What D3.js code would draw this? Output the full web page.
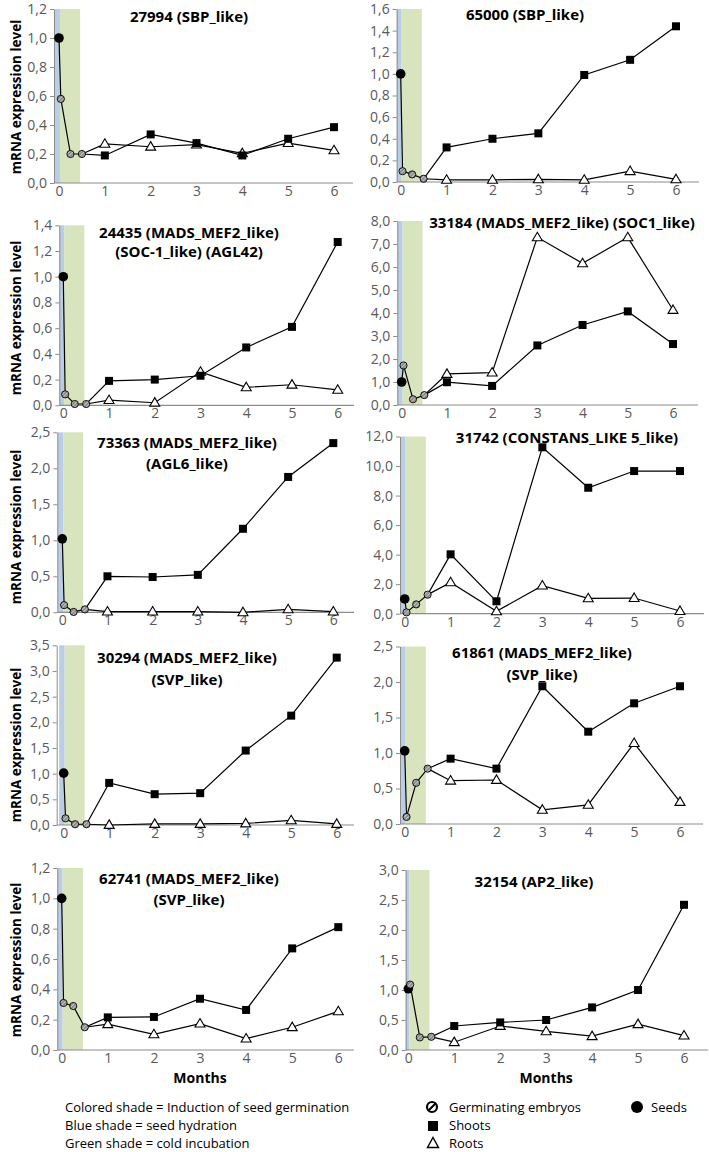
<!DOCTYPE html>
<html><head><meta charset="utf-8">
<script src="https://cdn.jsdelivr.net/npm/d3@7"></script>
<style>
body{margin:0;background:#fff}
svg{display:block}
text{font-family:"Open Sans",sans-serif}
</style>
</head><body>
<svg id="chart" width="709" height="1152"></svg>
<script>
// ---------- data ----------
const titles = [
  ["27994 (SBP_like)"],
  ["65000 (SBP_like)"],
  ["24435 (MADS_MEF2_like)", "(SOC-1_like) (AGL42)"],
  ["33184 (MADS_MEF2_like) (SOC1_like)"],
  ["73363 (MADS_MEF2_like)", "(AGL6_like)"],
  ["31742 (CONSTANS_LIKE 5_like)"],
  ["30294 (MADS_MEF2_like)", "(SVP_like)"],
  ["61861 (MADS_MEF2_like)", "(SVP_like)"],
  ["62741 (MADS_MEF2_like)", "(SVP_like)"],
  ["32154 (AP2_like)"]
];
const yMax  = [1.2, 1.6, 1.4, 8, 2.5, 12, 3.5, 2.5, 1.2, 3.0];
const yStep = [0.2, 0.2, 0.2, 1, 0.5, 2, 0.5, 0.5, 0.2, 0.5];
const monthTicks = [0, 1, 2, 3, 4, 5, 6];
const months = [1, 2, 3, 4, 5, 6];
const germX = [0.04, 0.25, 0.5];
const seedX = 0;
const seedVal = [1.0, 1.0, 1.0, 1.0, 1.02, 1.0, 1.01, 1.03, 1.0, 1.02];
const germVal = [
  [0.58, 0.20, 0.20],
  [0.10, 0.07, 0.03],
  [0.085, 0.01, 0.01],
  [1.72, 0.25, 0.43],
  [0.10, 0.005, 0.04],
  [0.09, 0.63, 1.29],
  [0.13, 0.015, 0.015],
  [0.10, 0.58, 0.78],
  [0.31, 0.29, 0.15],
  [1.09, 0.21, 0.22]
];
const shootVal = [
  [0.19, 0.335, 0.275, 0.19, 0.305, 0.385],
  [0.32, 0.40, 0.45, 0.99, 1.13, 1.44],
  [0.19, 0.20, 0.23, 0.45, 0.61, 1.27],
  [0.99, 0.83, 2.59, 3.48, 4.07, 2.65],
  [0.50, 0.49, 0.52, 1.16, 1.88, 2.35],
  [4.02, 0.84, 11.27, 8.53, 9.66, 9.66],
  [0.82, 0.60, 0.62, 1.45, 2.13, 3.26],
  [0.92, 0.78, 1.94, 1.30, 1.70, 1.94],
  [0.215, 0.218, 0.338, 0.264, 0.67, 0.81],
  [0.40, 0.46, 0.50, 0.71, 1.00, 2.42]
];
const rootVal = [
  [0.27, 0.25, 0.265, 0.205, 0.275, 0.225],
  [0.02, 0.02, 0.025, 0.02, 0.10, 0.025],
  [0.04, 0.02, 0.26, 0.14, 0.16, 0.12],
  [1.35, 1.41, 7.29, 6.16, 7.29, 4.13],
  [0.01, 0.01, 0.01, 0.0, 0.04, 0.01],
  [2.12, 0.16, 1.90, 1.04, 1.06, 0.18],
  [0.0, 0.02, 0.02, 0.03, 0.09, 0.02],
  [0.61, 0.62, 0.20, 0.27, 1.14, 0.31],
  [0.17, 0.103, 0.174, 0.075, 0.15, 0.255],
  [0.13, 0.40, 0.31, 0.23, 0.43, 0.24]
];
const blueShade = [-0.1, 0.02];
const greenShade = [0.02, 0.46];
const yLabel = "mRNA expression level";
const xLabel = "Months";
const shadeNotes = ["Colored shade = Induction of seed germination", "Blue shade = seed hydration", "Green shade = cold incubation"];
const legendNames = ["Germinating embryos", "Shoots", "Roots", "Seeds"];

// ---------- layout (pixels) ----------
const layout = [
  {x0:59,   x6:334, ax:54,   xe:353, yt:9,     yz:183,   tx:189, ty:[17]},
  {x0:400.7,x6:676, ax:396.7,xe:699, yt:9,     yz:182,   tx:525, ty:[15]},
  {x0:63.3, x6:337.7,ax:59.3,xe:354, yt:225.3, yz:405.3, tx:189, ty:[233,252]},
  {x0:401.7,x6:673, ax:397.3,xe:698, yt:221,   yz:405,   tx:562, ty:[223]},
  {x0:62.3, x6:333.3,ax:57.3,xe:354, yt:432.3, yz:612.3, tx:187, ty:[443,464]},
  {x0:404.7,x6:680, ax:400,  xe:704, yt:436.5, yz:613.7, tx:567, ty:[438]},
  {x0:63.7, x6:336.7,ax:56.7,xe:354, yt:645.3, yz:825,   tx:187, ty:[658,680]},
  {x0:404.7,x6:680, ax:400,  xe:703, yt:646.5, yz:824,   tx:542, ty:[653,675]},
  {x0:61.7, x6:338.3,ax:57.3,xe:354, yt:868,   yz:1050,  tx:189, ty:[879,900]},
  {x0:408.3,x6:684, ax:405.7,xe:708, yt:870,   yz:1050,  tx:534, ty:[882]}
];
const yLabelY = [97, 318, 527, 745, 960];

const svg = d3.select("#chart");
const defs = svg.append("defs");
const pat = defs.append("pattern").attr("id","hatch").attr("patternUnits","userSpaceOnUse")
  .attr("width",2.6).attr("height",2.6).attr("patternTransform","rotate(45)");
pat.append("rect").attr("width",2.6).attr("height",2.6).attr("fill","#8a8a8a");
pat.append("line").attr("x1",0).attr("y1",0).attr("x2",0).attr("y2",2.6).attr("stroke","#ececec").attr("stroke-width",1.1);

const fmt = d => d.toFixed(1).replace(".", ",");
const AX = "#8c8c8c";

function triPath(cx, cy, w, h) {
  return `M${cx},${cy - h*0.6}L${cx + w/2},${cy + h*0.4}L${cx - w/2},${cy + h*0.4}Z`;
}

layout.forEach((L, i) => {
  const g = svg.append("g");
  const x = d3.scaleLinear().domain([0, 6]).range([L.x0, L.x6]);
  const y = d3.scaleLinear().domain([0, yMax[i]]).range([L.yz, L.yt]);

  // shades
  const bx0 = Math.max(L.ax, x(blueShade[0]));
  g.append("rect").attr("x", bx0).attr("y", y(yMax[i]))
    .attr("width", x(blueShade[1]) - bx0).attr("height", y(0) - y(yMax[i])).attr("fill", "#b9cde5");
  g.append("rect").attr("x", x(greenShade[0])).attr("y", y(yMax[i]))
    .attr("width", x(greenShade[1]) - x(greenShade[0])).attr("height", y(0) - y(yMax[i])).attr("fill", "#d7e4bd");

  // y axis
  const yTicks = d3.range(0, yMax[i] + yStep[i] / 2, yStep[i]);
  const ya = g.append("g").attr("transform", `translate(${L.ax},0)`)
    .call(d3.axisLeft(y).tickValues(yTicks).tickFormat(fmt).tickSize(4).tickSizeOuter(0).tickPadding(3));
  ya.select(".domain").attr("stroke", AX);
  ya.selectAll(".tick line").attr("stroke", AX);
  ya.selectAll("text").attr("font-size", 14).attr("fill", "#595959").attr("font-family", "Open Sans");

  // x axis
  const xa = g.append("g").attr("transform", `translate(0,${L.yz})`)
    .call(d3.axisBottom(x).tickValues(monthTicks).tickFormat(d3.format("d")).tickSize(0).tickPadding(3));
  xa.select(".domain").remove();
  xa.selectAll("text").attr("font-size", 14).attr("fill", "#595959").attr("font-family", "Open Sans");
  g.append("line").attr("x1", L.ax).attr("x2", L.xe).attr("y1", L.yz).attr("y2", L.yz)
    .attr("stroke", AX).attr("stroke-width", 1.2);

  // lines
  const line = d3.line().x(d => x(d[0])).y(d => y(d[1]));
  const germPts = germX.map((gx, k) => [gx, germVal[i][k]]);
  const shootPts = months.map((m, k) => [m, shootVal[i][k]]);
  const rootPts = months.map((m, k) => [m, rootVal[i][k]]);
  const lastGerm = germPts[germPts.length - 1];
  g.append("path").attr("d", line([[seedX, seedVal[i]], ...germPts, ...shootPts]))
    .attr("fill", "none").attr("stroke", "#000").attr("stroke-width", 1.2);
  g.append("path").attr("d", line([lastGerm, ...rootPts]))
    .attr("fill", "none").attr("stroke", "#000").attr("stroke-width", 1.2);

  // markers
  g.selectAll(".root").data(rootPts).join("path")
    .attr("d", d => triPath(x(d[0]), y(d[1]), 10, 8.5))
    .attr("fill", "#fff").attr("stroke", "#000").attr("stroke-width", 1.1);
  g.selectAll(".shoot").data(shootPts).join("rect")
    .attr("x", d => x(d[0]) - 4).attr("y", d => y(d[1]) - 4).attr("width", 8).attr("height", 8).attr("fill", "#000");
  g.append("circle").attr("cx", x(seedX)).attr("cy", y(seedVal[i])).attr("r", 4.8).attr("fill", "#000");
  g.selectAll(".germ").data(germPts).join("circle")
    .attr("cx", d => x(d[0])).attr("cy", d => y(d[1])).attr("r", 3.6)
    .attr("fill", "url(#hatch)").attr("stroke", "#000").attr("stroke-width", 0.9);

  // title
  titles[i].forEach((t, k) => {
    g.append("text").attr("x", L.tx).attr("y", L.ty[k]).attr("dy", "0.35em")
      .attr("text-anchor", "middle").attr("font-size", 15).attr("font-weight", "bold").attr("fill", "#000").text(t);
  });

  // y label for left column
  if (i % 2 === 0) {
    svg.append("text").attr("transform", `translate(16,${yLabelY[i / 2]}) rotate(-90)`)
      .attr("text-anchor", "middle").attr("dy", "0.35em").attr("font-size", 13.5).attr("font-weight", "bold")
      .text(yLabel);
  }
  // x label bottom row
  if (i >= 8) {
    svg.append("text").attr("x", (L.x0 + L.x6) / 2).attr("y", 1078).attr("dy", "0.35em")
      .attr("text-anchor", "middle").attr("font-size", 14).attr("font-weight", "bold").text(xLabel);
  }
});

// ---------- legend ----------
shadeNotes.forEach((t, k) => {
  svg.append("text").attr("x", 65).attr("y", 1107 + k * 18).attr("dy", "0.35em")
    .attr("font-size", 13).text(t);
});
const lg = svg.append("g");
// germinating icon
lg.append("circle").attr("cx", 432).attr("cy", 1107).attr("r", 5).attr("fill", "#fff").attr("stroke", "#000").attr("stroke-width", 2.2);
lg.append("line").attr("x1", 428.5).attr("y1", 1110.5).attr("x2", 435.5).attr("y2", 1103.5).attr("stroke", "#000").attr("stroke-width", 2.2);
lg.append("rect").attr("x", 428).attr("y", 1121).attr("width", 10).attr("height", 10).attr("fill", "#000");
lg.append("path").attr("d", triPath(433, 1143.5, 11, 10)).attr("fill", "#fff").attr("stroke", "#000").attr("stroke-width", 1.4);
lg.append("circle").attr("cx", 637).attr("cy", 1107).attr("r", 6).attr("fill", "#000");
[[449, 1107], [449, 1125], [449, 1143], [651, 1107]].forEach((p, k) => {
  lg.append("text").attr("x", p[0]).attr("y", p[1]).attr("dy", "0.35em").attr("font-size", 13).text(legendNames[k]);
});
</script>
</body></html>
